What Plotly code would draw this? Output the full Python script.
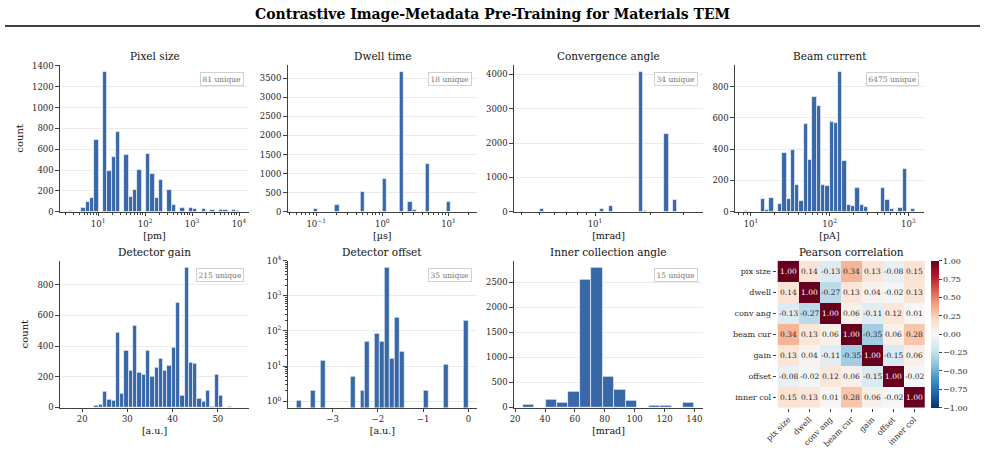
import math
import numpy as np
import plotly.graph_objects as go

FONT = "DejaVu Serif"
BAR = "#3868a7"
AX = "#404040"
GRID = "#ebebeb"
W, H = 985, 454

# ---------------- data ----------------
# histogram counts per bin (bins evenly spaced over the given range; log10 range for log panels)
pixel_counts = [2, 0, 0, 35, 90, 131, 689, 0, 1342, 394, 522, 769, 0, 548, 138, 211, 400, 0, 557, 362,
                135, 308, 0, 205, 67, 0, 32, 0, 32, 26, 0, 22, 0, 16, 0, 16, 12, 0, 16, 8]
pixel_range_log10 = [0.37, 4.03]          # pm

dwell_counts = [3, 0, 0, 0, 61, 0, 0, 0, 0, 175, 0, 0, 0, 0, 0, 509, 0, 0, 0, 0,
                851, 0, 0, 0, 3667, 0, 246, 35, 0, 0, 1246, 0, 0, 0, 0, 263, 0, 0, 0, 4]
dwell_range_log10 = [-1.301, 1.301]       # µs

conv_counts = [5, 0, 0, 0, 78, 0, 0, 0, 0, 0, 0, 0, 0, 0, 0, 0, 0, 0, 68, 0,
               165, 0, 0, 0, 0, 0, 0, 4068, 15, 0, 0, 0, 0, 2272, 0, 340, 0, 0, 0, 3]
conv_range_log10 = [0.608, 1.538]         # mrad

beam_counts = [2, 0, 0, 0, 79, 9, 85, 0, 49, 373, 81, 397, 171, 66, 559, 331, 734, 676, 169, 166,
               574, 565, 894, 322, 41, 36, 149, 41, 32, 0, 0, 0, 151, 75, 17, 0, 23, 273, 0, 17]
beam_range_log10 = [0.906, 3.09]          # pA

gain_counts = [1, 0, 0, 0, 0, 0, 11, 17, 100, 54, 43, 485, 93, 370, 237, 530, 224, 213, 372, 198,
               259, 317, 237, 274, 389, 683, 78, 911, 291, 285, 57, 35, 109, 4, 211, 80, 0, 6, 0, 1]
gain_range = [17.0, 55.0]                 # a.u.

offset_counts = [1, 0, 0, 2, 0, 14, 0, 0, 0, 0, 0, 5, 0, 2, 48, 0, 85, 48, 6400, 16,
                 240, 25, 0, 0, 0, 0, 2, 0, 0, 0, 11, 0, 0, 0, 190]
offset_range = [-3.8, 0.0]                # a.u.

inner_counts = [47, 0, 160, 87, 313, 2540, 2787, 607, 353, 127, 0, 27, 27, 0, 87]
inner_range = [25.0, 140.0]               # mrad

titles = ["Pixel size", "Dwell time", "Convergence angle", "Beam current",
          "Detector gain", "Detector offset", "Inner collection angle"]
units = ["[pm]", "[µs]", "[mrad]", "[pA]", "[a.u.]", "[a.u.]", "[mrad]"]
unique_counts = [81, 18, 34, 6475, 215, 35, 15]
y_dticks = [200, 500, 1000, 200, 200, None, 500]

corr_labels = ["pix size", "dwell", "conv ang", "beam cur", "gain", "offset", "inner col"]
corr_values = [
    [1.00, 0.14, -0.13, 0.34, 0.13, -0.08, 0.15],
    [0.14, 1.00, -0.27, 0.13, 0.04, -0.02, 0.13],
    [-0.13, -0.27, 1.00, 0.06, -0.11, 0.12, 0.01],
    [0.34, 0.13, 0.06, 1.00, -0.35, 0.06, 0.28],
    [0.13, 0.04, -0.11, -0.35, 1.00, -0.15, 0.06],
    [-0.08, -0.02, 0.12, 0.06, -0.15, 1.00, -0.02],
    [0.15, 0.13, 0.01, 0.28, 0.06, -0.02, 1.00],
]
colorbar_ticks = [-1.0, -0.75, -0.5, -0.25, 0.0, 0.25, 0.5, 0.75, 1.0]

# ---------------- layout geometry ----------------
col_px = [(60, 249), (287.7, 477), (514, 703), (735, 924)]
row_px = [(65, 211.7), (260.7, 407.5)]


def xdom(a, b):
    return [a / W, b / W]


def ydom(top, bot):
    return [1 - bot / H, 1 - top / H]


panels = [
    (pixel_counts, pixel_range_log10, True, False, 0, 0),
    (dwell_counts, dwell_range_log10, True, False, 1, 0),
    (conv_counts, conv_range_log10, True, False, 2, 0),
    (beam_counts, beam_range_log10, True, False, 3, 0),
    (gain_counts, gain_range, False, False, 0, 1),
    (offset_counts, offset_range, False, True, 1, 1),
    (inner_counts, inner_range, False, False, 2, 1),
]


def sup(n):
    s = str(n).replace("-", "−")
    return "10<sup>" + s + "</sup>"


fig = go.Figure()
annotations = []
tickfont = dict(family=FONT, size=8.5, color="#262626")
layout = {}

for i, (counts, rng, logx, logy, col, row) in enumerate(panels):
    k = i + 1
    sfx = "" if k == 1 else str(k)
    xa, ya = f"x{sfx}", f"y{sfx}"
    nb = len(counts)
    lo, hi = rng
    edges = np.linspace(lo, hi, nb + 1)
    centers = (edges[:-1] + edges[1:]) / 2
    bw = edges[1] - edges[0]
    yvals = [c if c > 0 else None for c in counts]
    fig.add_trace(go.Bar(x=centers, y=yvals, width=bw, xaxis=xa, yaxis=ya,
                         marker=dict(color=BAR, line=dict(color="rgba(255,255,255,0.8)", width=0.8)),
                         showlegend=False))
    pad = 0.05 * (hi - lo)
    xr = [lo - pad, hi + pad]
    xaxis = dict(domain=xdom(*col_px[col]), anchor=ya, range=xr, showgrid=False, zeroline=False,
                 automargin=False,
                 showline=True, linecolor=AX, linewidth=1.2, ticks="outside", ticklen=3.5,
                 tickcolor=AX, tickwidth=1, tickfont=tickfont,
                 title=dict(text=units[i], font=dict(family=FONT, size=9.5, color="#111"), standoff=4))
    if logx:
        majors = [n for n in range(math.floor(xr[0]), math.ceil(xr[1]) + 1) if xr[0] <= n <= xr[1]]
        minors = [n + math.log10(m) for n in range(math.floor(xr[0]) - 1, math.ceil(xr[1]) + 1)
                  for m in range(2, 10) if xr[0] <= n + math.log10(m) <= xr[1]]
        xaxis.update(tickmode="array", tickvals=majors, ticktext=[sup(n) for n in majors],
                     minor=dict(tickmode="array", tickvals=minors, ticks="outside", ticklen=2,
                                tickcolor=AX, tickwidth=0.8, showgrid=False))
    else:
        if i == 4:
            xaxis.update(tickmode="array", tickvals=[20, 30, 40, 50])
        elif i == 5:
            xaxis.update(tickmode="array", tickvals=[-3, -2, -1, 0])
        else:
            xaxis.update(tickmode="array", tickvals=[20, 40, 60, 80, 100, 120, 140])
    yaxis = dict(domain=ydom(*row_px[row]), anchor=xa, showgrid=True, gridcolor=GRID, gridwidth=1,
                 automargin=False,
                 zeroline=False, showline=True, linecolor=AX, linewidth=1.2, ticks="outside",
                 ticklen=3.5, tickcolor=AX, tickwidth=1, tickfont=tickfont)
    if logy:
        majors = [1, 10, 100, 1000, 10000]
        minors = [m * 10 ** n for n in range(0, 4) for m in range(2, 10)]
        yaxis.update(type="log", range=[-0.18, 4.0], tickmode="array", tickvals=majors,
                     ticktext=[sup(n) for n in range(5)],
                     minor=dict(tickmode="array", tickvals=minors, ticks="outside", ticklen=2,
                                tickcolor=AX, tickwidth=0.8, showgrid=False))
    else:
        yaxis.update(range=[0, max(counts) * 1.05], dtick=y_dticks[i], tick0=0)
    if col == 0:
        yaxis.update(title=dict(text="count", font=dict(family=FONT, size=10, color="#111"), standoff=6))
    layout[f"xaxis{sfx}"] = xaxis
    layout[f"yaxis{sfx}"] = yaxis
    annotations.append(dict(text=titles[i], xref=f"{xa} domain", yref=f"{ya} domain", x=0.5, y=1,
                            xanchor="center", yanchor="bottom", yshift=1, showarrow=False,
                            font=dict(family=FONT, size=10.5, color="#111")))
    annotations.append(dict(text=f"{unique_counts[i]} unique", xref=f"{xa} domain", yref=f"{ya} domain",
                            x=0.975, y=0.95, xanchor="right", yanchor="top", showarrow=False,
                            font=dict(family=FONT, size=7.5, color="#777"), bgcolor="white",
                            bordercolor="#d0d0d0", borderwidth=1, borderpad=1.5))

# ---------------- correlation heatmap ----------------
rdbu_r = ["#053061", "#2166ac", "#4393c3", "#92c5de", "#d1e5f0", "#f7f7f7",
          "#fddbc7", "#f4a582", "#d6604d", "#b2182b", "#67001f"]
cscale = [[j / 10, c] for j, c in enumerate(rdbu_r)]
fig.add_trace(go.Heatmap(z=corr_values, x=corr_labels, y=corr_labels, zmin=-1, zmax=1,
                         colorscale=cscale, xaxis="x8", yaxis="y8", showscale=True,
                         colorbar=dict(x=931 / W, xanchor="left", xpad=0, y=1 - 334.2 / H, yanchor="middle",
                                       len=147 / H, lenmode="fraction", ypad=0, thickness=8,
                                       outlinewidth=0, tickmode="array", tickvals=colorbar_ticks,
                                       tickformat=".2f", ticks="outside", ticklen=3, tickcolor=AX,
                                       tickfont=dict(family=FONT, size=8, color="#262626"))))
layout["xaxis8"] = dict(domain=xdom(776.7, 925.5), anchor="y8", tickangle=-45, ticks="outside",
                        ticklen=3, tickcolor=AX, showgrid=False, zeroline=False, showline=False,
                        automargin=False, tickfont=dict(family=FONT, size=8, color="#262626"))
layout["yaxis8"] = dict(domain=ydom(260.7, 407.7), anchor="x8", autorange="reversed", ticks="outside",
                        ticklen=3, tickcolor=AX, showgrid=False, zeroline=False, showline=False,
                        automargin=False, tickfont=dict(family=FONT, size=8, color="#262626"))
for r, rl in enumerate(corr_labels):
    for c, cl in enumerate(corr_labels):
        v = corr_values[r][c]
        annotations.append(dict(text=f"{v:.2f}", x=cl, y=rl, xref="x8", yref="y8", showarrow=False,
                                font=dict(family=FONT, size=7.5,
                                          color="white" if abs(v) > 0.6 else "#262626")))
annotations.append(dict(text="Pearson correlation", xref="x8 domain", yref="y8 domain", x=0.5, y=1,
                        xanchor="center", yanchor="bottom", yshift=1, showarrow=False,
                        font=dict(family=FONT, size=10.5, color="#111")))

# ---------------- title ----------------
annotations.append(dict(text="<b>Contrastive Image-Metadata Pre-Training for Materials TEM</b>",
                        xref="paper", yref="paper", x=0.5, y=1 - 14 / H, xanchor="center",
                        yanchor="middle", showarrow=False,
                        font=dict(family=FONT, size=14, color="black")))

fig.update_layout(template="none", width=W, height=H, margin=dict(l=0, r=0, t=0, b=0, pad=0),
                  paper_bgcolor="white", plot_bgcolor="white", annotations=annotations, bargap=0,
                  font=dict(family=FONT),
                  shapes=[dict(type="line", xref="paper", yref="paper", x0=5 / W, x1=980 / W,
                               y0=1 - 26 / H, y1=1 - 26 / H, line=dict(color="black", width=1.5))],
                  **layout)
fig.write_html("out.html")
